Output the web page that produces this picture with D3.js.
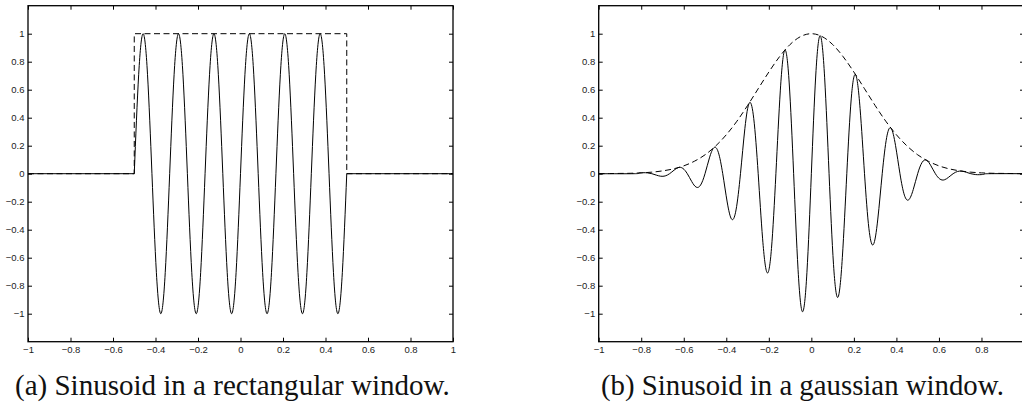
<!DOCTYPE html>
<html>
<head>
<meta charset="utf-8">
<script src="https://cdn.jsdelivr.net/npm/d3@7"></script>
</head>
<body style="margin:0;background:#fff">
<svg id="chart" width="1022" height="405" style="display:block"></svg>
<script>
// ---------------- data ----------------
const xTicks = [-1, -0.8, -0.6, -0.4, -0.2, 0, 0.2, 0.4, 0.6, 0.8, 1];
const xTickLabels = ["\u22121", "\u22120.8", "\u22120.6", "\u22120.4", "\u22120.2", "0", "0.2", "0.4", "0.6", "0.8", "1"];
const yTicks = [-1, -0.8, -0.6, -0.4, -0.2, 0, 0.2, 0.4, 0.6, 0.8, 1];
const yTickLabels = ["\u22121", "\u22120.8", "\u22120.6", "\u22120.4", "\u22120.2", "0", "0.2", "0.4", "0.6", "0.8", "1"];

const captions = ["(a) Sinusoid in a rectangular window.", "(b) Sinusoid in a gaussian window."];

// sample positions along x
const sampleX = [
  -0.8333, -0.8125, -0.7917, -0.7708, -0.75, -0.7292, -0.7083, -0.6875,
  -0.6667, -0.6458, -0.625, -0.6042, -0.5833, -0.5625, -0.5417, -0.5208,
  -0.5, -0.4792, -0.4583, -0.4375, -0.4167, -0.3958, -0.375, -0.3542,
  -0.3333, -0.3125, -0.2917, -0.2708, -0.25, -0.2292, -0.2083, -0.1875,
  -0.1667, -0.1458, -0.125, -0.1042, -0.0833, -0.0625, -0.0417, -0.0208,
  0,
  0.0208, 0.0417, 0.0625, 0.0833, 0.1042, 0.125, 0.1458, 0.1667,
  0.1875, 0.2083, 0.2292, 0.25, 0.2708, 0.2917, 0.3125, 0.3333,
  0.3542, 0.375, 0.3958, 0.4167, 0.4375, 0.4583, 0.4792, 0.5,
  0.5208, 0.5417, 0.5625, 0.5833, 0.6042, 0.625, 0.6458, 0.6667,
  0.6875, 0.7083, 0.7292, 0.75, 0.7708, 0.7917, 0.8125, 0.8333
];

// (a) rectangular window (dashed) and the windowed sinusoid (solid)
const rectWindowX = [-1, -0.5, -0.5, 0.5, 0.5, 1];
const rectWindowY = [0, 0, 1, 1, 0, 0];
const rectSineY = [
  0, 0.707, 1, 0.707, 0, -0.707, -1, -0.707,
  0, 0.707, 1, 0.707, 0, -0.707, -1, -0.707,
  0, 0.707, 1, 0.707, 0, -0.707, -1, -0.707,
  0, 0.707, 1, 0.707, 0, -0.707, -1, -0.707,
  0, 0.707, 1, 0.707, 0, -0.707, -1, -0.707,
  0, 0.707, 1, 0.707, 0, -0.707, -1, -0.707,
  0
]; // values at sampleX within [-0.5, 0.5]
const rectFlatX = [[-1, -0.5], [0.5, 1]];

// (b) gaussian window (dashed) and the windowed sinusoid (solid)
const gaussEnvX = [
  -1, -0.95, -0.9, -0.85, -0.8, -0.75, -0.7, -0.65, -0.6, -0.55, -0.5,
  -0.45, -0.4, -0.35, -0.3, -0.25, -0.2, -0.15, -0.1, -0.05, 0,
  0.05, 0.1, 0.15, 0.2, 0.25, 0.3, 0.35, 0.4, 0.45, 0.5,
  0.55, 0.6, 0.65, 0.7, 0.75, 0.8, 0.85, 0.9, 0.95, 1
];
const gaussEnvY = [
  0.000, 0.001, 0.002, 0.003, 0.006, 0.011, 0.020, 0.034, 0.056, 0.089, 0.135,
  0.198, 0.278, 0.375, 0.487, 0.607, 0.726, 0.835, 0.923, 0.980, 1.000,
  0.980, 0.923, 0.835, 0.726, 0.607, 0.487, 0.375, 0.278, 0.198, 0.135,
  0.089, 0.056, 0.034, 0.020, 0.011, 0.006, 0.003, 0.002, 0.001, 0.000
];
const gaussSineY = [
  0, 0.004, 0.007, 0.006, 0, -0.010, -0.018, -0.016,
  0, 0.025, 0.044, 0.038, 0, -0.056, -0.096, -0.081,
  0, 0.113, 0.186, 0.153, 0, -0.202, -0.325, -0.259,
  0, 0.324, 0.506, 0.393, 0, -0.465, -0.707, -0.534,
  0, 0.597, 0.883, 0.648, 0, -0.685, -0.986, -0.705,
  0,
  0.705, 0.986, 0.685, 0, -0.648, -0.883, -0.597, 0,
  0.534, 0.707, 0.465, 0, -0.393, -0.506, -0.324, 0,
  0.259, 0.325, 0.202, 0, -0.153, -0.186, -0.113, 0,
  0.081, 0.096, 0.056, 0, -0.038, -0.044, -0.025, 0,
  0.016, 0.018, 0.010, 0, -0.006, -0.007, -0.004, 0
]; // values at sampleX
const gaussTailX = [-1, 1];

// ---------------- drawing ----------------
const svg = d3.select("#chart");
const yTop = 5.7, yBot = 341.7;

const panels = [
  { left: 28, right: 453, captionX: 15, captionW: 435 },
  { left: 598.7, right: 1024, captionX: 601, captionW: 403 }
];

const y = d3.scaleLinear().domain([-1.2, 1.2]).range([yBot, yTop]);

panels.forEach((p, pi) => {
  const x = d3.scaleLinear().domain([-1, 1]).range([p.left, p.right]);
  const g = svg.append("g");

  const clipId = "clip" + pi;
  svg.append("clipPath").attr("id", clipId)
    .append("rect")
    .attr("x", p.left).attr("y", yTop)
    .attr("width", p.right - p.left).attr("height", yBot - yTop);

  const plot = g.append("g").attr("clip-path", `url(#${clipId})`);

  const lineLinear = d3.line().x(d => x(d[0])).y(d => y(d[1]));
  const lineSmooth = d3.line().x(d => x(d[0])).y(d => y(d[1])).curve(d3.curveNatural);

  if (pi === 0) {
    plot.append("path")
      .datum(rectWindowX.map((v, i) => [v, rectWindowY[i]]))
      .attr("d", lineLinear)
      .attr("fill", "none").attr("stroke", "#000").attr("stroke-width", 1)
      .attr("stroke-dasharray", "6,3.5");
    rectFlatX.forEach(seg => {
      plot.append("path")
        .datum(seg.map(v => [v, 0]))
        .attr("d", lineLinear)
        .attr("fill", "none").attr("stroke", "#000").attr("stroke-width", 1);
    });
    const inside = sampleX.filter(v => v >= -0.5 && v <= 0.5);
    plot.append("path")
      .datum(inside.map((v, i) => [v, rectSineY[i]]))
      .attr("d", lineSmooth)
      .attr("fill", "none").attr("stroke", "#000").attr("stroke-width", 1);
  } else {
    plot.append("path")
      .datum(gaussEnvX.map((v, i) => [v, gaussEnvY[i]]))
      .attr("d", lineSmooth)
      .attr("fill", "none").attr("stroke", "#000").attr("stroke-width", 1)
      .attr("stroke-dasharray", "6,3.5");
    const pts = [[gaussTailX[0], 0]]
      .concat(sampleX.map((v, i) => [v, gaussSineY[i]]))
      .concat([[gaussTailX[1], 0]]);
    plot.append("path")
      .datum(pts)
      .attr("d", lineSmooth)
      .attr("fill", "none").attr("stroke", "#000").attr("stroke-width", 1);
  }

  const fmtX = (d, i) => (pi === 1 && i === xTicks.length - 1) ? "" : xTickLabels[i];
  const fmtY = (d, i) => yTickLabels[i];

  const axB = g.append("g").attr("transform", `translate(0,${yBot})`)
    .call(d3.axisBottom(x).tickValues(xTicks).tickFormat(fmtX).tickSizeInner(-4).tickSizeOuter(0).tickPadding(5));
  const axT = g.append("g").attr("transform", `translate(0,${yTop})`)
    .call(d3.axisTop(x).tickValues(xTicks).tickFormat("").tickSizeInner(-4).tickSizeOuter(0));
  const axL = g.append("g").attr("transform", `translate(${p.left},0)`)
    .call(d3.axisLeft(y).tickValues(yTicks).tickFormat(fmtY).tickSizeInner(-4).tickSizeOuter(0).tickPadding(3.5));
  const axR = g.append("g").attr("transform", `translate(${p.right},0)`)
    .call(d3.axisRight(y).tickValues(yTicks).tickFormat("").tickSizeInner(-4).tickSizeOuter(0));

  [axB, axT, axL, axR].forEach(a => {
    a.attr("font-family", "Liberation Sans").attr("font-size", 9.5);
    a.select(".domain").remove();
    a.selectAll(".tick line").attr("stroke", "#000").attr("stroke-width", 1);
    a.selectAll("text")
      .attr("font-family", "Liberation Sans")
      .style("font-family", "Liberation Sans")
      .attr("font-size", 9.5)
      .attr("fill", "#222");
  });

  g.append("rect")
    .attr("x", p.left).attr("y", yTop)
    .attr("width", p.right - p.left).attr("height", yBot - yTop)
    .attr("fill", "none").attr("stroke", "#000").attr("stroke-width", 1.3);

  const cap = svg.append("text")
    .attr("x", p.captionX).attr("y", 395)
    .attr("font-family", "Liberation Serif")
    .style("font-family", "Liberation Serif")
    .attr("font-weight", "normal")
    .attr("font-size", 27)
    .attr("fill", "#111")
    .text(captions[pi]);
  const w = cap.node().getComputedTextLength();
  if (w > 0) {
    const fs = 27 * p.captionW / w;
    cap.attr("font-size", Math.min(30, Math.max(22, fs)));
  }
});
</script>
</body>
</html>
